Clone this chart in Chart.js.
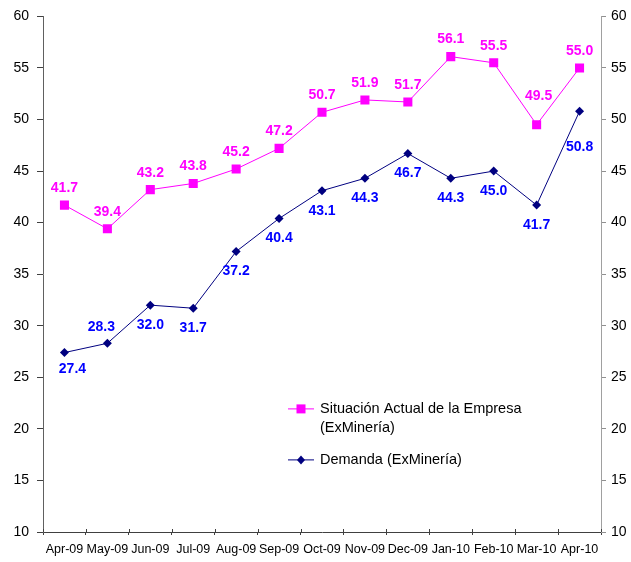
<!DOCTYPE html>
<html>
<head>
<meta charset="utf-8">
<script src="https://cdn.jsdelivr.net/npm/chart.js@4/dist/chart.umd.min.js"></script>
<style>
html,body{margin:0;padding:0;background:#fff;}
#wrap{position:relative;width:631px;height:562px;}
</style>
</head>
<body>
<div id="wrap"><canvas id="c" width="631" height="562"></canvas></div>
<script>
const categories = ['Apr-09','May-09','Jun-09','Jul-09','Aug-09','Sep-09','Oct-09','Nov-09','Dec-09','Jan-10','Feb-10','Mar-10','Apr-10'];
const situacion = [41.7, 39.4, 43.2, 43.8, 45.2, 47.2, 50.7, 51.9, 51.7, 56.1, 55.5, 49.5, 55.0];
const demanda = [27.4, 28.3, 32.0, 31.7, 37.2, 40.4, 43.1, 44.3, 46.7, 44.3, 45.0, 41.7, 50.8];
const seriesNames = [['Situación Actual de la Empresa', '(ExMinería)'], ['Demanda (ExMinería)']];
const yMin = 10, yMax = 60, yStep = 5;

const FONT = '"Liberation Sans", Arial, sans-serif';

// label placement offsets (px) for data labels
const labelShift = {
  0: { // situacion: above
    default: {dx: 0, dy: -17},
    11: {dx: 2, dy: -29}
  },
  1: { // demanda: below
    default: {dx: 0, dy: 20},
    0: {dx: 8, dy: 17},
    1: {dx: -6, dy: -16},
    12: {dx: 0, dy: 36}
  }
};
const labelColors = ['#FF00FF', '#0000FF'];

const dataLabelPlugin = {
  id: 'dataLabels',
  afterDatasetsDraw(chart) {
    const ctx = chart.ctx;
    ctx.save();
    ctx.font = 'bold 14px ' + FONT;
    ctx.textAlign = 'center';
    ctx.textBaseline = 'middle';
    chart.data.datasets.forEach((ds, di) => {
      const meta = chart.getDatasetMeta(di);
      ctx.fillStyle = labelColors[di];
      meta.data.forEach((pt, i) => {
        const s = labelShift[di][i] || labelShift[di].default;
        ctx.fillText(ds.data[i].toFixed(1), pt.x + s.dx, pt.y + s.dy);
      });
    });
    ctx.restore();
  }
};

// small upward part of the x-axis tick marks (they cross the axis line)
const xTickCross = {
  id: 'xTickCross',
  afterDraw(chart) {
    const ctx = chart.ctx;
    const xs = chart.scales.x;
    const ca = chart.chartArea;
    ctx.save();
    ctx.strokeStyle = '#404040';
    ctx.lineWidth = 1;
    for (let i = 0; i <= categories.length; i++) {
      const x = Math.round(xs.left + (xs.right - xs.left) * i / categories.length) + 0.5;
      ctx.beginPath();
      ctx.moveTo(x, ca.bottom - 3);
      ctx.lineTo(x, ca.bottom);
      ctx.stroke();
    }
    ctx.restore();
  }
};

const legendPlugin = {
  id: 'insideLegend',
  afterDraw(chart) {
    const ctx = chart.ctx;
    const ca = chart.chartArea;
    const x0 = ca.left + 245;
    const rows = [ca.top + 392, ca.top + 443];
    ctx.save();
    ctx.font = '14.5px ' + FONT;
    ctx.textBaseline = 'middle';
    ctx.textAlign = 'left';
    chart.data.datasets.forEach((ds, di) => {
      const y = rows[di];
      ctx.strokeStyle = ds.borderColor;
      ctx.lineWidth = 1;
      ctx.beginPath();
      ctx.moveTo(x0, y + 0.5);
      ctx.lineTo(x0 + 26, y + 0.5);
      ctx.stroke();
      ctx.fillStyle = ds.backgroundColor;
      const cx = x0 + 13;
      if (di === 0) {
        ctx.fillRect(cx - 4.5, y - 4, 9, 9);
      } else {
        ctx.beginPath();
        ctx.moveTo(cx, y - 4);
        ctx.lineTo(cx + 4, y + 0.5);
        ctx.lineTo(cx, y + 5);
        ctx.lineTo(cx - 4, y + 0.5);
        ctx.closePath();
        ctx.fill();
      }
      ctx.fillStyle = '#000';
      seriesNames[di].forEach((t, li) => {
        ctx.fillText(t, x0 + 32, y + 1 + li * 19);
      });
    });
    ctx.restore();
  }
};

new Chart(document.getElementById('c'), {
  type: 'line',
  data: {
    labels: categories,
    datasets: [
      {
        label: seriesNames[0].join(' '),
        data: situacion,
        borderColor: '#FF00FF',
        backgroundColor: '#FF00FF',
        borderWidth: 1,
        pointStyle: 'rect',
        pointRadius: 6.4,
        pointHoverRadius: 6.4,
        pointBorderWidth: 0,
        tension: 0,
        yAxisID: 'y'
      },
      {
        label: seriesNames[1][0],
        data: demanda,
        borderColor: '#000080',
        backgroundColor: '#000080',
        borderWidth: 1,
        pointStyle: 'rectRot',
        pointRadius: 4.5,
        pointHoverRadius: 4.5,
        pointBorderWidth: 0,
        tension: 0,
        yAxisID: 'y'
      }
    ]
  },
  options: {
    responsive: false,
    animation: false,
    events: [],
    layout: {padding: {top: 16, left: 0, right: 0, bottom: 0}},
    plugins: {legend: {display: false}, tooltip: {enabled: false}},
    scales: {
      x: {
        offset: true,
        grid: {offset: true, drawOnChartArea: false, drawTicks: true, tickLength: 3, color: '#404040'},
        border: {display: true, color: '#404040', width: 1},
        ticks: {color: '#000', font: {family: FONT, size: 12.5}, padding: 7, maxRotation: 0, autoSkip: false},
        afterFit(s) { s.height = 30; }
      },
      y: {
        position: 'left',
        min: yMin, max: yMax,
        grid: {drawOnChartArea: false, drawTicks: true, tickLength: 6, color: '#404040'},
        border: {display: true, color: '#606060', width: 1},
        ticks: {stepSize: yStep, color: '#000', font: {family: FONT, size: 14}, padding: 8},
        afterFit(s) { s.width = 43; }
      },
      y2: {
        position: 'right',
        min: yMin, max: yMax,
        grid: {drawOnChartArea: false, drawTicks: true, tickLength: 5, color: '#909090'},
        border: {display: true, color: '#a0a0a0', width: 1},
        ticks: {stepSize: yStep, color: '#000', font: {family: FONT, size: 14}, padding: 5},
        afterFit(s) { s.width = 30; }
      }
    }
  },
  plugins: [dataLabelPlugin, xTickCross, legendPlugin]
});
</script>
</body>
</html>
